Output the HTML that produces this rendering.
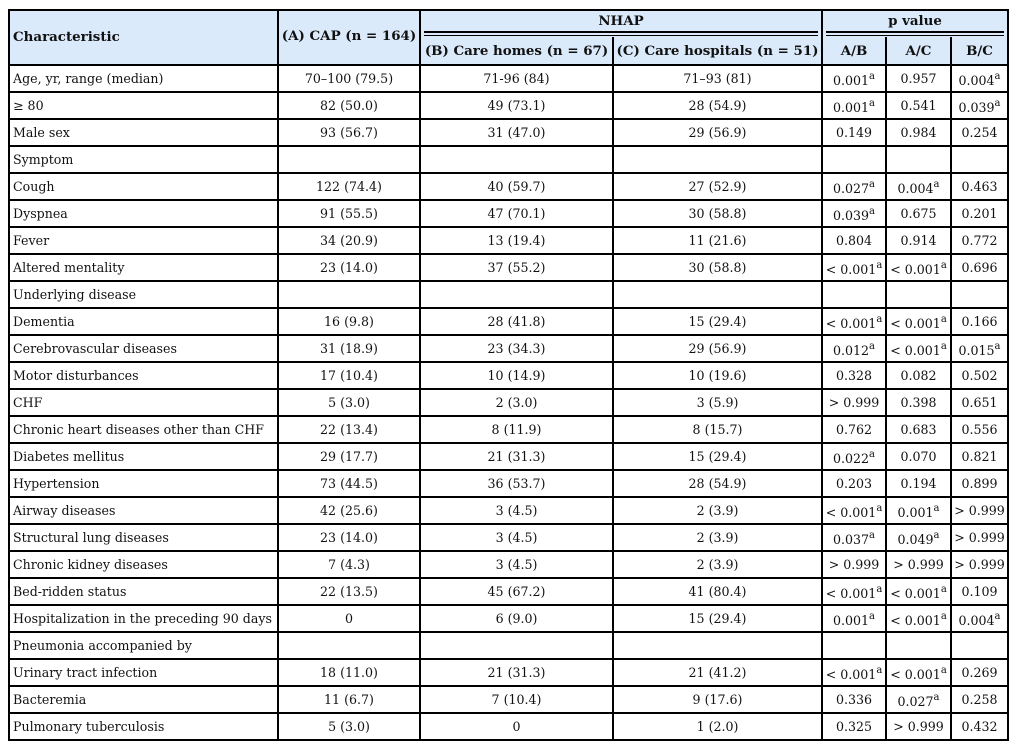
<!DOCTYPE html>
<html><head><meta charset="utf-8">
<style>
html,body{margin:0;padding:0;background:#fff;}
#c{position:relative;width:1018px;height:749px;overflow:hidden;background:#fff;
font-family:"DejaVu Serif","DejaVu Serif Condensed",serif;font-size:12.6px;color:#111;}
.hb{position:absolute;left:10px;top:10px;width:997px;height:54px;background:#dbeafb;}
.v{position:absolute;width:2px;background:#000;}
.h{position:absolute;height:2px;background:#000;left:8px;width:1001px;}
.hl{position:absolute;left:8px;top:64px;width:1001px;height:677px;
background:repeating-linear-gradient(to bottom,#000 0px,#000 2px,transparent 2px,transparent 27px);}
.r{position:absolute;left:0;width:1018px;height:25px;}
.r>div{position:absolute;top:0;height:25px;line-height:25px;text-align:center;white-space:nowrap;}
.r>div:nth-child(1){left:10px;width:264px;text-align:left;padding-left:3px;}
.r>div:nth-child(2){left:279px;width:140px;}
.r>div:nth-child(3){left:421px;width:191px;}
.r>div:nth-child(4){left:614px;width:207px;}
.r>div:nth-child(5){left:823px;width:62px;}
.r>div:nth-child(6){left:887px;width:63px;}
.r>div:nth-child(7){left:952px;width:55px;}
.r>div.d{top:2px;}
sup{font-size:10px;vertical-align:6px;line-height:0;}
.t{position:absolute;font-weight:bold;white-space:nowrap;text-align:center;font-size:13.4px;}
</style></head><body>
<div id="c">
<div class="hb"></div>
<div class="hl"></div>
<div class="h" style="top:9px"></div>
<div style="position:absolute;left:424px;top:31px;width:394px;height:2px;background:#000"></div>
<div style="position:absolute;left:424px;top:35px;width:394px;height:1px;background:#000"></div>
<div style="position:absolute;left:826px;top:31px;width:178px;height:2px;background:#000"></div>
<div style="position:absolute;left:826px;top:35px;width:178px;height:1px;background:#000"></div>
<div class="v" style="left:8px;top:9px;height:732px"></div>
<div class="v" style="left:277px;top:9px;height:732px"></div>
<div class="v" style="left:419px;top:9px;height:732px"></div>
<div class="v" style="left:612px;top:37px;height:704px"></div>
<div class="v" style="left:821px;top:9px;height:732px"></div>
<div class="v" style="left:885px;top:37px;height:704px"></div>
<div class="v" style="left:950px;top:37px;height:704px"></div>
<div class="v" style="left:1007px;top:9px;height:732px"></div>
<div class="t" style="left:13px;top:28px;line-height:18px;text-align:left">Characteristic</div>
<div class="t" style="left:279px;top:27px;width:140px;line-height:18px">(A) CAP (n = 164)</div>
<div class="t" style="left:421px;top:12px;width:400px;line-height:18px">NHAP</div>
<div class="t" style="left:823px;top:12px;width:184px;line-height:18px">p value</div>
<div class="t" style="left:421px;top:42px;width:191px;line-height:18px">(B) Care homes (n = 67)</div>
<div class="t" style="left:614px;top:42px;width:207px;line-height:18px">(C) Care hospitals (n = 51)</div>
<div class="t" style="left:823px;top:42px;width:62px;line-height:18px">A/B</div>
<div class="t" style="left:887px;top:42px;width:63px;line-height:18px">A/C</div>
<div class="t" style="left:952px;top:42px;width:55px;line-height:18px">B/C</div>

<div class="r" style="top:66px"><div>Age, yr, range (median)</div><div>70–100 (79.5)</div><div>71-96 (84)</div><div>71–93 (81)</div><div class="d">0.001<sup>a</sup></div><div>0.957</div><div class="d">0.004<sup>a</sup></div></div>
<div class="r" style="top:93px"><div>≥ 80</div><div>82 (50.0)</div><div>49 (73.1)</div><div>28 (54.9)</div><div class="d">0.001<sup>a</sup></div><div>0.541</div><div class="d">0.039<sup>a</sup></div></div>
<div class="r" style="top:120px"><div>Male sex</div><div>93 (56.7)</div><div>31 (47.0)</div><div>29 (56.9)</div><div>0.149</div><div>0.984</div><div>0.254</div></div>
<div class="r" style="top:147px"><div>Symptom</div></div>
<div class="r" style="top:174px"><div>Cough</div><div>122 (74.4)</div><div>40 (59.7)</div><div>27 (52.9)</div><div class="d">0.027<sup>a</sup></div><div class="d">0.004<sup>a</sup></div><div>0.463</div></div>
<div class="r" style="top:201px"><div>Dyspnea</div><div>91 (55.5)</div><div>47 (70.1)</div><div>30 (58.8)</div><div class="d">0.039<sup>a</sup></div><div>0.675</div><div>0.201</div></div>
<div class="r" style="top:228px"><div>Fever</div><div>34 (20.9)</div><div>13 (19.4)</div><div>11 (21.6)</div><div>0.804</div><div>0.914</div><div>0.772</div></div>
<div class="r" style="top:255px"><div>Altered mentality</div><div>23 (14.0)</div><div>37 (55.2)</div><div>30 (58.8)</div><div class="d">&lt; 0.001<sup>a</sup></div><div class="d">&lt; 0.001<sup>a</sup></div><div>0.696</div></div>
<div class="r" style="top:282px"><div>Underlying disease</div></div>
<div class="r" style="top:309px"><div>Dementia</div><div>16 (9.8)</div><div>28 (41.8)</div><div>15 (29.4)</div><div class="d">&lt; 0.001<sup>a</sup></div><div class="d">&lt; 0.001<sup>a</sup></div><div>0.166</div></div>
<div class="r" style="top:336px"><div>Cerebrovascular diseases</div><div>31 (18.9)</div><div>23 (34.3)</div><div>29 (56.9)</div><div class="d">0.012<sup>a</sup></div><div class="d">&lt; 0.001<sup>a</sup></div><div class="d">0.015<sup>a</sup></div></div>
<div class="r" style="top:363px"><div>Motor disturbances</div><div>17 (10.4)</div><div>10 (14.9)</div><div>10 (19.6)</div><div>0.328</div><div>0.082</div><div>0.502</div></div>
<div class="r" style="top:390px"><div>CHF</div><div>5 (3.0)</div><div>2 (3.0)</div><div>3 (5.9)</div><div>&gt; 0.999</div><div>0.398</div><div>0.651</div></div>
<div class="r" style="top:417px"><div>Chronic heart diseases other than CHF</div><div>22 (13.4)</div><div>8 (11.9)</div><div>8 (15.7)</div><div>0.762</div><div>0.683</div><div>0.556</div></div>
<div class="r" style="top:444px"><div>Diabetes mellitus</div><div>29 (17.7)</div><div>21 (31.3)</div><div>15 (29.4)</div><div class="d">0.022<sup>a</sup></div><div>0.070</div><div>0.821</div></div>
<div class="r" style="top:471px"><div>Hypertension</div><div>73 (44.5)</div><div>36 (53.7)</div><div>28 (54.9)</div><div>0.203</div><div>0.194</div><div>0.899</div></div>
<div class="r" style="top:498px"><div>Airway diseases</div><div>42 (25.6)</div><div>3 (4.5)</div><div>2 (3.9)</div><div class="d">&lt; 0.001<sup>a</sup></div><div class="d">0.001<sup>a</sup></div><div>&gt; 0.999</div></div>
<div class="r" style="top:525px"><div>Structural lung diseases</div><div>23 (14.0)</div><div>3 (4.5)</div><div>2 (3.9)</div><div class="d">0.037<sup>a</sup></div><div class="d">0.049<sup>a</sup></div><div>&gt; 0.999</div></div>
<div class="r" style="top:552px"><div>Chronic kidney diseases</div><div>7 (4.3)</div><div>3 (4.5)</div><div>2 (3.9)</div><div>&gt; 0.999</div><div>&gt; 0.999</div><div>&gt; 0.999</div></div>
<div class="r" style="top:579px"><div>Bed-ridden status</div><div>22 (13.5)</div><div>45 (67.2)</div><div>41 (80.4)</div><div class="d">&lt; 0.001<sup>a</sup></div><div class="d">&lt; 0.001<sup>a</sup></div><div>0.109</div></div>
<div class="r" style="top:606px"><div>Hospitalization in the preceding 90 days</div><div>0</div><div>6 (9.0)</div><div>15 (29.4)</div><div class="d">0.001<sup>a</sup></div><div class="d">&lt; 0.001<sup>a</sup></div><div class="d">0.004<sup>a</sup></div></div>
<div class="r" style="top:633px"><div>Pneumonia accompanied by</div></div>
<div class="r" style="top:660px"><div>Urinary tract infection</div><div>18 (11.0)</div><div>21 (31.3)</div><div>21 (41.2)</div><div class="d">&lt; 0.001<sup>a</sup></div><div class="d">&lt; 0.001<sup>a</sup></div><div>0.269</div></div>
<div class="r" style="top:687px"><div>Bacteremia</div><div>11 (6.7)</div><div>7 (10.4)</div><div>9 (17.6)</div><div>0.336</div><div class="d">0.027<sup>a</sup></div><div>0.258</div></div>
<div class="r" style="top:714px"><div>Pulmonary tuberculosis</div><div>5 (3.0)</div><div>0</div><div>1 (2.0)</div><div>0.325</div><div>&gt; 0.999</div><div>0.432</div></div>
</div>
</body></html>
